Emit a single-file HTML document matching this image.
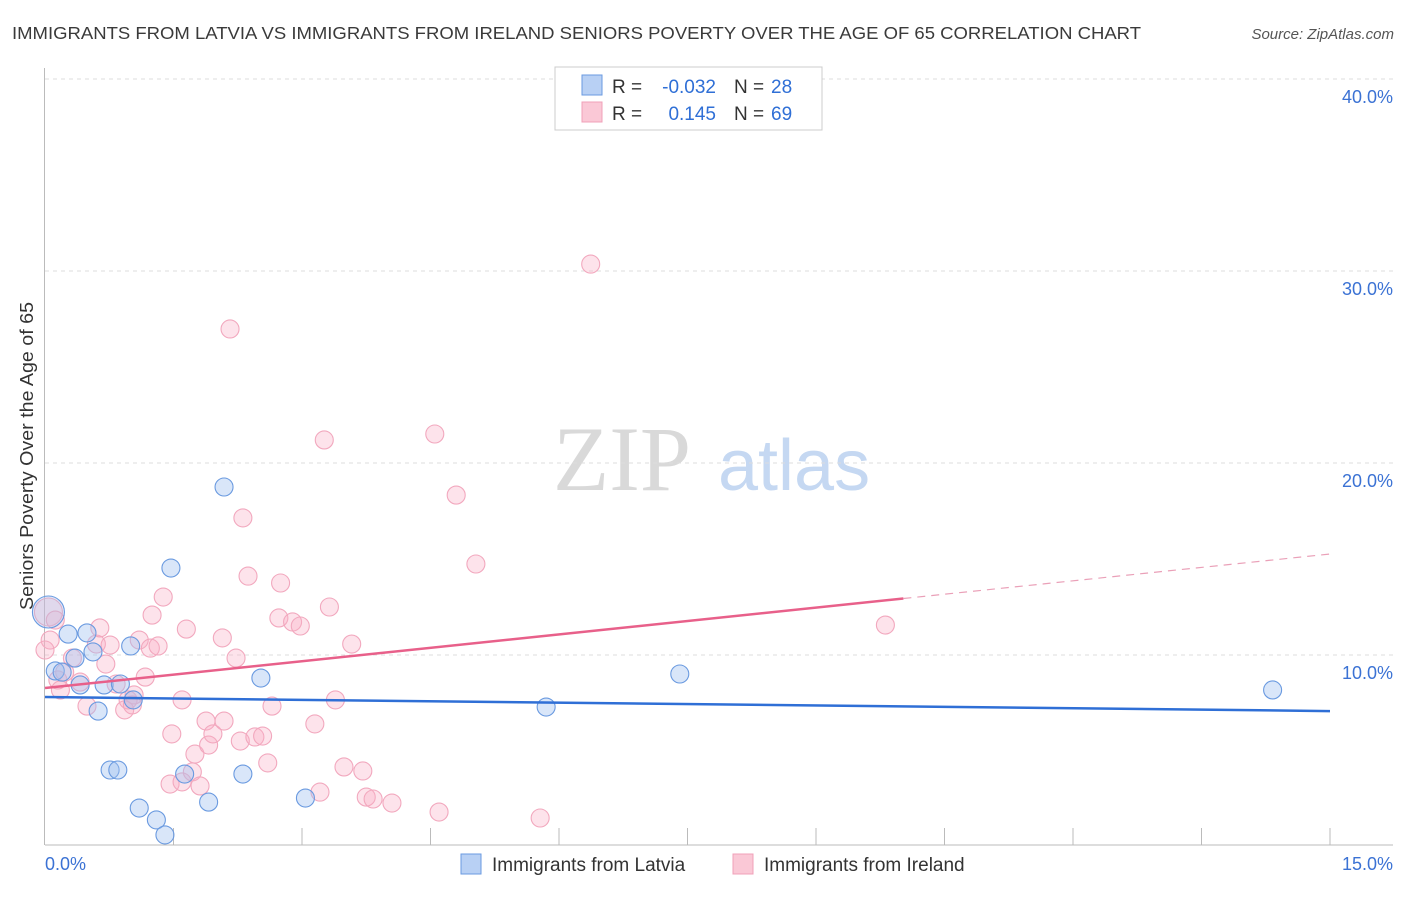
<!DOCTYPE html>
<html><head><meta charset="utf-8"><style>
body{margin:0;background:#fff;font-family:"Liberation Sans",sans-serif}
</style></head><body>
<svg id="chart" width="1406" height="892" xmlns="http://www.w3.org/2000/svg" font-family="Liberation Sans, sans-serif">
<text x="12" y="39" font-size="17.5" fill="#3a3a3a" textLength="1129" lengthAdjust="spacingAndGlyphs">IMMIGRANTS FROM LATVIA VS IMMIGRANTS FROM IRELAND SENIORS POVERTY OVER THE AGE OF 65 CORRELATION CHART</text>
<text x="1394" y="39" font-size="15" fill="#555" font-style="italic" text-anchor="end">Source: ZipAtlas.com</text>
<text x="553" y="490" font-size="92" font-family="Liberation Serif, serif" fill="#d9d9d9">ZIP</text>
<text x="718" y="490" font-size="72" fill="#c5d8f2">atlas</text>
<text transform="translate(33,456) rotate(-90)" font-size="18" fill="#333" text-anchor="middle" textLength="308" lengthAdjust="spacingAndGlyphs">Seniors Poverty Over the Age of 65</text>
<g id="grid"></g><g id="axes"></g><g id="marks"></g><g id="lines"></g>
<g>
<rect x="555" y="67" width="267" height="63" fill="#fff" stroke="#ccc"/>
<rect x="582" y="75" width="20" height="20" fill="#b8d0f4" stroke="#6a9ae0"/>
<rect x="582" y="102" width="20" height="20" fill="#fac8d6" stroke="#f0a0b8"/>
<text x="612" y="93" font-size="19" fill="#333">R =</text>
<text x="716" y="93" font-size="19" fill="#2f6fd6" text-anchor="end">-0.032</text>
<text x="734" y="93" font-size="19" fill="#333">N =</text>
<text x="771" y="93" font-size="19" fill="#2f6fd6">28</text>
<text x="612" y="120" font-size="19" fill="#333">R =</text>
<text x="716" y="120" font-size="19" fill="#2f6fd6" text-anchor="end">0.145</text>
<text x="734" y="120" font-size="19" fill="#333">N =</text>
<text x="771" y="120" font-size="19" fill="#2f6fd6">69</text>
</g>
<g>
<rect x="461" y="854" width="20" height="20" fill="#b8d0f4" stroke="#6a9ae0"/>
<text x="492" y="871" font-size="19" fill="#333">Immigrants from Latvia</text>
<rect x="733" y="854" width="20" height="20" fill="#fac8d6" stroke="#f0a0b8"/>
<text x="764" y="871" font-size="19" fill="#333">Immigrants from Ireland</text>
</g>
</svg>
<script>
const latviaX=[0.04,0.12,0.20,0.27,0.35,0.41,0.49,0.56,0.62,0.69,0.76,0.85,0.88,1.00,1.03,1.10,1.30,1.40,1.47,1.63,1.91,2.09,2.31,2.52,3.04,5.85,7.41,14.33];
const latviaY=[12.24,9.17,9.11,11.09,9.84,8.44,11.15,10.16,7.08,8.44,4.01,4.01,8.49,10.47,7.66,2.03,1.41,0.63,14.53,3.80,2.34,18.75,3.80,8.80,2.55,7.29,9.01,8.18];
const irelandX=[0.04,0.12,0.06,0.15,0.23,0.32,0.41,0.49,0.60,0.64,0.71,0.76,0.83,0.93,0.97,1.04,1.10,1.17,1.23,1.25,1.32,1.38,1.48,1.46,1.60,1.65,1.60,1.72,1.75,1.81,1.88,1.91,1.96,2.07,2.09,2.16,2.23,2.28,2.31,2.37,2.45,2.54,2.60,2.65,2.73,2.75,2.89,2.98,3.15,3.26,3.21,3.32,3.39,3.49,3.58,3.71,3.75,3.83,4.05,4.55,4.60,4.80,5.03,5.78,6.37,9.81,0.0,0.18,1.02];
const irelandY=[12.24,11.82,10.78,8.70,9.11,9.84,8.59,7.34,10.57,11.41,9.53,10.52,8.49,7.14,7.66,7.92,10.78,8.85,10.36,12.08,10.47,13.02,5.89,3.28,3.39,11.35,7.66,3.91,4.84,3.18,6.56,5.31,5.89,10.89,6.56,26.98,9.84,5.52,17.14,14.11,5.73,5.78,4.38,7.34,11.93,13.75,11.72,11.51,6.41,21.20,2.86,12.50,7.66,4.17,10.57,3.96,2.60,2.50,2.29,21.51,1.82,18.33,14.74,1.51,30.36,11.56,10.26,8.18,7.40];
const yTicks=[10,20,30,40];
const yTickLabels=["10.0%","20.0%","30.0%","40.0%"];
const xTickLabels=["0.0%","15.0%"];
const latviaTrend=[7.81,7.08];
const irelandTrend=[8.28,15.26];
const irelandSolidEnd=10.02;
const NS="http://www.w3.org/2000/svg";
const X=v=>45+v/15*1285, Y=v=>847-v*19.2;
function mk(t,a,p){const e=document.createElementNS(NS,t);for(const k in a)e.setAttribute(k,a[k]);p.appendChild(e);return e;}
const grid=document.getElementById('grid'),axes=document.getElementById('axes'),marks=document.getElementById('marks'),lines=document.getElementById('lines');
yTicks.forEach((t,i)=>{
 const l=mk('line',{x1:45,x2:1393,y1:Y(t),y2:Y(t),stroke:'#ddd','stroke-dasharray':'4,4'},grid);
 
 
 const tx=mk('text',{x:1393,y:Y(t)+24,'text-anchor':'end','font-size':18,fill:'#3b72d4'},axes);
 tx.textContent=yTickLabels[i];
 
 
});
const ax=mk('line',{x1:45,x2:1393,y1:845,y2:845,stroke:'#bbb'},axes);


const ay=mk('line',{x1:44.5,x2:44.5,y1:68,y2:845,stroke:'#bbb'},axes);


for(let i=1;i<=10;i++){const t=mk('line',{x1:X(i*1.5),x2:X(i*1.5),y1:828,y2:845,stroke:'#bbb'},axes);
 
 }
[[0,'start',45],[15,'end',1393]].forEach((d,i)=>{const t=mk('text',{x:d[2],y:870,'text-anchor':d[1],'font-size':18,fill:'#3b72d4'},axes);t.textContent=xTickLabels[i];
 
 });
irelandX.forEach((x,i)=>{const c=mk('circle',{cx:X(x),cy:Y(irelandY[i]),r:i==0?14:9,fill:'rgba(248,175,198,0.35)',stroke:'#f2a8be','stroke-width':1.1},marks);
 
 });
latviaX.forEach((x,i)=>{const c=mk('circle',{cx:X(x),cy:Y(latviaY[i]),r:i==0?16:9,fill:i==0?'rgba(160,192,240,0.3)':'rgba(160,192,240,0.4)',stroke:'#6a9ae0','stroke-width':1.1},marks);
 
 });
const lt=mk('line',{x1:X(0),y1:Y(latviaTrend[0]),x2:X(15),y2:Y(latviaTrend[1]),stroke:'#2f6fd6','stroke-width':2.5},lines);


const yAt=x=>irelandTrend[0]+(irelandTrend[1]-irelandTrend[0])*x/15;
const it=mk('line',{x1:X(0),y1:Y(yAt(0)),x2:X(irelandSolidEnd),y2:Y(yAt(irelandSolidEnd)),stroke:'#e8608a','stroke-width':2.5},lines);


const id=mk('line',{x1:X(irelandSolidEnd),y1:Y(yAt(irelandSolidEnd)),x2:X(15),y2:Y(yAt(15)),stroke:'#eaa0b8','stroke-width':1.2,'stroke-dasharray':'8,6'},lines);


</script>
</body></html>
